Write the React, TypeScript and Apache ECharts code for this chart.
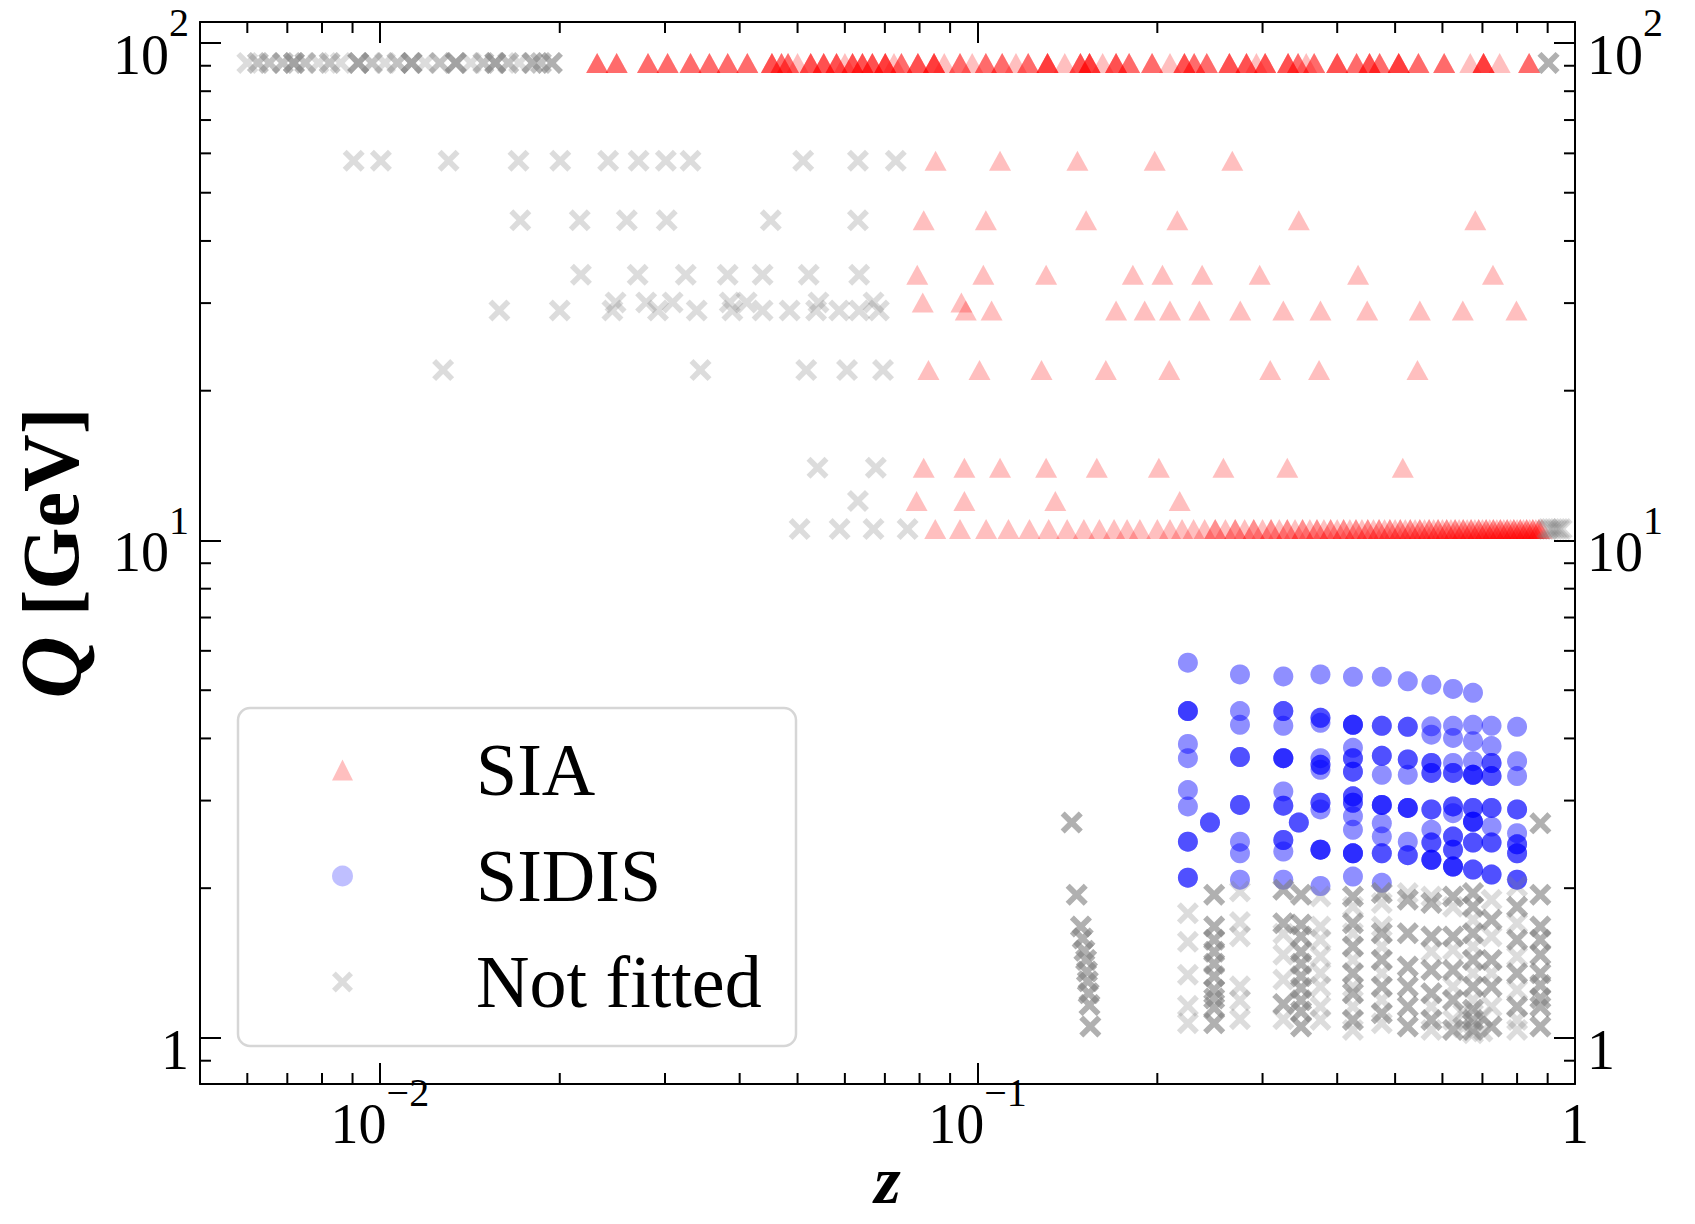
import React, { useEffect, useRef } from 'react';
import * as echarts from 'echarts';

const FONT = '"Liberation Serif", "DejaVu Serif", serif';

// ---------- axis settings ----------
const Z_MIN = 0.005;
const Z_MAX = 1;
const Q_MIN = 0.808;
const Q_MAX = 110.2;
const zMinorTicks = [0.006, 0.007, 0.008, 0.009, 0.02, 0.03, 0.04, 0.05, 0.06, 0.07, 0.08, 0.09, 0.2, 0.3, 0.4, 0.5, 0.6, 0.7, 0.8, 0.9];
const qMinorTicks = [0.9, 2, 3, 4, 5, 6, 7, 8, 9, 20, 30, 40, 50, 60, 70, 80, 90];

// ---------- SIA (e+e- annihilation) ----------
const Q_MZ = 91.2;
// [z, number of overlapping measurements]
const siaZpole: [number, number][] = [
  [0.0231, 3], [0.0249, 3], [0.0281, 3], [0.0303, 3], [0.0331, 3], [0.0356, 3], [0.0382, 3], [0.0412, 3],
  [0.0453, 4], [0.047, 3], [0.0482, 3], [0.05, 1], [0.0526, 4], [0.0553, 4], [0.0581, 4], [0.06, 1],
  [0.0618, 4], [0.0642, 4], [0.0667, 4], [0.0701, 5], [0.0725, 1], [0.0746, 3], [0.0795, 4], [0.0846, 5],
  [0.088, 1], [0.0935, 3], [0.098, 1], [0.1033, 3], [0.11, 3], [0.116, 1], [0.1216, 3], [0.131, 5],
  [0.14, 1], [0.1487, 4], [0.154, 5], [0.162, 1], [0.1706, 4], [0.1794, 3], [0.196, 3], [0.21, 1],
  [0.222, 4], [0.2305, 3], [0.242, 3], [0.264, 4], [0.282, 4], [0.293, 1], [0.303, 4], [0.331, 4],
  [0.344, 3], [0.355, 1], [0.366, 3], [0.4, 4], [0.431, 3], [0.453, 4], [0.471, 3], [0.507, 5],
  [0.547, 3], [0.604, 3], [0.668, 1], [0.703, 5], [0.748, 1], [0.838, 3],
];
const siaQ58 = [0.0851, 0.1091, 0.147, 0.198, 0.267];
const siaQ44 = [0.0813, 0.1033, 0.152, 0.216, 0.345, 0.681];
const siaQ34 = [0.0793, 0.1023, 0.1303, 0.182, 0.204, 0.2377, 0.2967, 0.4335, 0.729];
const siaQ30 = [0.081, 0.094];
const siaQ29 = [0.0956, 0.1056, 0.1706, 0.1905, 0.21, 0.2352, 0.2753, 0.325, 0.375, 0.449, 0.55, 0.649, 0.798];
const siaQ22 = [0.0828, 0.1008, 0.128, 0.164, 0.2094, 0.309, 0.373, 0.545];
const siaQ14 = [0.0813, 0.0951, 0.1091, 0.1303, 0.1584, 0.2012, 0.258, 0.33, 0.515];
const siaQ12 = [0.0791, 0.0951, 0.135, 0.218];
const siaQ105 = [
  0.085, 0.0935, 0.1034, 0.1127, 0.1222, 0.1316, 0.1413, 0.1507, 0.16, 0.1693, 0.178, 0.187,
  0.2, 0.21, 0.22, 0.23, 0.24, 0.25, 0.26, 0.27, 0.28, 0.29, 0.3, 0.31, 0.32, 0.33, 0.34, 0.35, 0.36, 0.37, 0.38, 0.39,
  0.4, 0.41, 0.42, 0.43, 0.44, 0.45, 0.46, 0.47, 0.48, 0.49, 0.5, 0.51, 0.52, 0.53, 0.54, 0.55, 0.56, 0.57, 0.58, 0.59,
  0.6, 0.61, 0.62, 0.63, 0.64, 0.65, 0.66, 0.67, 0.68, 0.69, 0.7, 0.71, 0.72, 0.73, 0.74, 0.75, 0.76, 0.77, 0.78, 0.79,
  0.8, 0.81, 0.82, 0.83, 0.84, 0.85, 0.86, 0.87, 0.88,
];
const siaQ105b = [
  0.25, 0.27, 0.29, 0.31, 0.33, 0.35, 0.37, 0.39, 0.41, 0.43, 0.45, 0.47, 0.49, 0.51, 0.53, 0.55,
  0.57, 0.59, 0.61, 0.63, 0.65, 0.67, 0.69, 0.71, 0.73, 0.75, 0.77, 0.79, 0.81, 0.83, 0.85, 0.87,
];

// ---------- SIDIS: [z, Q, overlap] ----------
const sidisPoints: [number, number, number][] = [
  [0.225, 5.68, 2], [0.225, 4.54, 5], [0.225, 3.9, 2], [0.225, 3.65, 2], [0.225, 3.15, 2], [0.225, 2.92, 2], [0.225, 2.48, 4], [0.225, 2.1, 4],
  [0.245, 2.71, 4],
  [0.275, 5.38, 2], [0.275, 4.54, 2], [0.275, 4.26, 2], [0.275, 3.67, 4], [0.275, 2.94, 4], [0.275, 2.48, 2], [0.275, 2.35, 2], [0.275, 2.08, 2],
  [0.325, 5.33, 2], [0.325, 4.54, 4], [0.325, 4.24, 2], [0.325, 3.65, 6], [0.325, 3.13, 2], [0.325, 2.93, 4], [0.325, 2.5, 4], [0.325, 2.37, 2], [0.325, 2.08, 2],
  [0.345, 2.71, 4],
  [0.375, 5.38, 2], [0.375, 4.4, 4], [0.375, 4.3, 2], [0.375, 3.65, 2], [0.375, 3.54, 4], [0.375, 3.46, 2], [0.375, 2.97, 4], [0.375, 2.88, 2], [0.375, 2.39, 6], [0.375, 2.02, 2],
  [0.425, 5.32, 2], [0.425, 4.26, 6], [0.425, 3.83, 2], [0.425, 3.65, 4], [0.425, 3.43, 4], [0.425, 3.06, 4], [0.425, 2.97, 4], [0.425, 2.79, 2], [0.425, 2.62, 2], [0.425, 2.35, 6], [0.425, 2.11, 2],
  [0.475, 5.32, 2], [0.475, 4.24, 4], [0.475, 3.69, 4], [0.475, 3.38, 2], [0.475, 2.94, 6], [0.475, 2.7, 2], [0.475, 2.54, 2], [0.475, 2.35, 4], [0.475, 2.05, 2],
  [0.525, 5.21, 2], [0.525, 4.22, 4], [0.525, 3.63, 4], [0.525, 3.38, 2], [0.525, 2.9, 6], [0.525, 2.48, 2], [0.525, 2.33, 4],
  [0.575, 5.13, 2], [0.575, 4.23, 2], [0.575, 4.07, 2], [0.575, 3.57, 4], [0.575, 3.41, 4], [0.575, 2.88, 4], [0.575, 2.62, 2], [0.575, 2.47, 4], [0.575, 2.28, 6],
  [0.625, 5.03, 2], [0.625, 4.24, 2], [0.625, 4.01, 2], [0.625, 3.57, 2], [0.625, 3.41, 4], [0.625, 2.92, 4], [0.625, 2.83, 2], [0.625, 2.54, 4], [0.625, 2.39, 4], [0.625, 2.21, 6],
  [0.675, 4.94, 2], [0.675, 4.26, 2], [0.675, 3.95, 2], [0.675, 3.6, 2], [0.675, 3.38, 6], [0.675, 2.9, 4], [0.675, 2.72, 6], [0.675, 2.47, 4], [0.675, 2.18, 4],
  [0.725, 4.24, 2], [0.725, 3.86, 2], [0.725, 3.57, 4], [0.725, 3.36, 4], [0.725, 2.9, 4], [0.725, 2.66, 2], [0.725, 2.47, 4], [0.725, 2.13, 4],
  [0.8, 4.22, 2], [0.8, 3.6, 2], [0.8, 3.36, 2], [0.8, 2.88, 4], [0.8, 2.58, 2], [0.8, 2.45, 4], [0.8, 2.35, 4], [0.8, 2.08, 4],
];

// ---------- Not fitted ----------
const nfZpole: [number, number][] = [
  [0.006, 1], [0.00625, 2], [0.00653, 2], [0.00688, 2], [0.00718, 4], [0.0075, 2], [0.00789, 1], [0.00824, 2],
  [0.0086, 1], [0.0092, 4], [0.0097, 2], [0.0102, 1], [0.0107, 2], [0.0113, 4], [0.0119, 1], [0.0126, 2],
  [0.0134, 4], [0.0142, 1], [0.0149, 2], [0.0156, 4], [0.0164, 2], [0.0171, 1], [0.018, 3], [0.0186, 2],
  [0.0194, 3], [0.903, 3],
];
const nfQ58 = [0.00904, 0.01004, 0.01303, 0.01706, 0.02004, 0.0241, 0.0271, 0.0301, 0.0331, 0.0511, 0.0631, 0.073];
const nfQ44 = [0.01718, 0.0216, 0.0259, 0.0302, 0.0451, 0.0631];
const nfQ34 = [0.0217, 0.027, 0.0325, 0.0382, 0.0437, 0.0522, 0.0634];
const nfQ30 = [0.0248, 0.0279, 0.0309, 0.0385, 0.0411, 0.0542, 0.067];
const nfQ29 = [0.01585, 0.02, 0.0245, 0.0292, 0.0339, 0.0389, 0.0437, 0.0485, 0.0537, 0.0587, 0.0634, 0.0684];
const nfQ22 = [0.01276, 0.0344, 0.0517, 0.0605, 0.0695];
const nfQ14 = [0.054, 0.0676];
const nfQ12 = [0.0631];
const nfQ105 = [0.0504, 0.0588, 0.067, 0.0764, 0.9, 0.91, 0.92, 0.93, 0.94, 0.95];
const nfLowQ: [number, number, number][] = [
  [0.1438, 2.71, 3], [0.1466, 1.94, 3], [0.149, 1.675, 3], [0.15, 1.585, 3], [0.151, 1.497, 3], [0.152, 1.435, 3],
  [0.1525, 1.36, 3], [0.153, 1.3, 3], [0.1535, 1.23, 3], [0.154, 1.165, 3], [0.1545, 1.054, 3],
  [0.225, 1.78, 1], [0.225, 1.56, 1], [0.225, 1.34, 1], [0.225, 1.16, 1], [0.225, 1.07, 1],
  [0.249, 1.94, 3], [0.249, 1.675, 3], [0.249, 1.575, 3], [0.249, 1.49, 3], [0.249, 1.41, 3], [0.249, 1.33, 3], [0.249, 1.25, 3], [0.249, 1.2, 3], [0.249, 1.15, 3], [0.249, 1.07, 3],
  [0.275, 1.97, 1], [0.275, 1.71, 1], [0.275, 1.6, 1], [0.275, 1.27, 1], [0.275, 1.19, 1], [0.275, 1.09, 1],
  [0.325, 1.985, 3], [0.325, 1.7, 3], [0.325, 1.62, 1], [0.325, 1.47, 1], [0.325, 1.31, 1], [0.325, 1.17, 3], [0.325, 1.09, 1],
  [0.348, 1.94, 3], [0.348, 1.69, 3], [0.348, 1.6, 3], [0.348, 1.49, 3], [0.348, 1.41, 3], [0.348, 1.33, 3], [0.348, 1.26, 3], [0.348, 1.19, 3], [0.348, 1.13, 3], [0.348, 1.054, 3],
  [0.375, 1.925, 1], [0.375, 1.675, 1], [0.375, 1.575, 1], [0.375, 1.458, 1], [0.375, 1.349, 1], [0.375, 1.268, 1], [0.375, 1.156, 1], [0.375, 1.087, 1],
  [0.425, 1.925, 3], [0.425, 1.836, 1], [0.425, 1.701, 3], [0.425, 1.624, 1], [0.425, 1.527, 3], [0.425, 1.435, 1], [0.425, 1.349, 3], [0.425, 1.268, 1], [0.425, 1.23, 3], [0.425, 1.156, 1], [0.425, 1.087, 3], [0.425, 1.038, 1],
  [0.475, 1.955, 3], [0.475, 1.867, 1], [0.475, 1.675, 1], [0.475, 1.624, 3], [0.475, 1.527, 1], [0.475, 1.435, 3], [0.475, 1.349, 1], [0.475, 1.268, 3], [0.475, 1.192, 1], [0.475, 1.121, 3], [0.475, 1.07, 1],
  [0.525, 1.955, 1], [0.525, 1.896, 3], [0.525, 1.624, 3], [0.525, 1.392, 3], [0.525, 1.268, 3], [0.525, 1.156, 3], [0.525, 1.054, 3],
  [0.575, 1.925, 1], [0.575, 1.867, 3], [0.575, 1.599, 3], [0.575, 1.491, 1], [0.575, 1.37, 3], [0.575, 1.23, 3], [0.575, 1.156, 1], [0.575, 1.087, 3], [0.575, 1.038, 1],
  [0.625, 1.925, 3], [0.625, 1.836, 1], [0.625, 1.599, 3], [0.625, 1.503, 1], [0.625, 1.37, 3], [0.625, 1.268, 1], [0.625, 1.192, 3], [0.625, 1.087, 1], [0.625, 1.038, 3],
  [0.65, 1.05, 1], [0.65, 1.12, 1], [0.7, 1.03, 1], [0.7, 1.1, 1],
  [0.675, 1.955, 3], [0.675, 1.836, 3], [0.675, 1.728, 1], [0.675, 1.624, 3], [0.675, 1.527, 1], [0.675, 1.435, 3], [0.675, 1.349, 1], [0.675, 1.268, 3], [0.675, 1.192, 1], [0.675, 1.139, 3], [0.675, 1.087, 3], [0.675, 1.038, 3], [0.675, 1.022, 1],
  [0.725, 1.896, 1], [0.725, 1.728, 3], [0.725, 1.599, 1], [0.725, 1.435, 3], [0.725, 1.349, 1], [0.725, 1.268, 3], [0.725, 1.156, 1], [0.725, 1.054, 3],
  [0.8, 2.015, 1], [0.8, 1.836, 3], [0.8, 1.701, 1], [0.8, 1.575, 3], [0.8, 1.458, 1], [0.8, 1.349, 3], [0.8, 1.249, 1], [0.8, 1.156, 3], [0.8, 1.087, 1], [0.8, 1.038, 1],
  [0.875, 2.7, 3], [0.875, 1.94, 3], [0.875, 1.675, 3], [0.875, 1.575, 3], [0.875, 1.469, 3], [0.875, 1.349, 3], [0.875, 1.278, 3], [0.875, 1.202, 3], [0.875, 1.156, 3], [0.875, 1.054, 3],
];

const X_SYMBOL = 'path://M0,1.8L1.8,0L5,3.2L8.2,0L10,1.8L6.8,5L10,8.2L8.2,10L5,6.8L1.8,10L0,8.2L3.2,5Z';

function repeatPts(pts: [number, number, number][]): number[][] {
  const out: number[][] = [];
  pts.forEach(([z, q, n]) => {
    for (let i = 0; i < n; i++) out.push([z, q]);
  });
  return out;
}
function row(q: number, zs: number[]): number[][] {
  return zs.map((z) => [z, q]);
}

const siaData = [
  ...repeatPts(siaZpole.map(([z, n]) => [z, Q_MZ, n] as [number, number, number])),
  ...row(58, siaQ58), ...row(44, siaQ44), ...row(34.2, siaQ34), ...row(30.1, siaQ30), ...row(29, siaQ29),
  ...row(22, siaQ22), ...row(14, siaQ14), ...row(12, siaQ12), ...row(10.54, siaQ105), ...row(10.54, siaQ105b),
];
const sidisData = repeatPts(sidisPoints);
const nfData = [
  ...repeatPts(nfZpole.map(([z, n]) => [z, Q_MZ, n] as [number, number, number])),
  ...row(58, nfQ58), ...row(44, nfQ44), ...row(34.2, nfQ34), ...row(30.1, nfQ30), ...row(29, nfQ29),
  ...row(22, nfQ22), ...row(14, nfQ14), ...row(12, nfQ12), ...row(10.54, nfQ105),
  ...repeatPts(nfLowQ),
];

function powLabel(v: number): string {
  const e = Math.round(Math.log10(v));
  if (e === 0) return '{b|1}';
  return `{b|10}{s|${e < 0 ? '\u2212' + -e : e}}`;
}
const labelRich = {
  b: { fontFamily: FONT, fontSize: 56, lineHeight: 80, verticalAlign: 'bottom', color: '#000' },
  s: { fontFamily: FONT, fontSize: 40, lineHeight: 40, verticalAlign: 'top', color: '#000' },
};

export default function App() {
  const ref = useRef<HTMLDivElement>(null);
  useEffect(() => {
    if (!ref.current) return;
    const chart = echarts.init(ref.current, undefined, { renderer: 'svg' });
    const axisLine = { show: true, onZero: false, lineStyle: { color: '#000', width: 2 } };
    const axisTick = { show: true, inside: true, length: 21, lineStyle: { color: '#000', width: 2 } };
    const tickLine = (x1: number, y1: number, x2: number, y2: number) => ({
      type: 'line', shape: { x1, y1, x2, y2 }, style: { stroke: '#000', lineWidth: 2 },
    });
    const option: any = {
      animation: false,
      textStyle: { fontFamily: FONT },
      grid: { left: 200, right: 120, top: 22, bottom: 140, containLabel: false, outerBoundsMode: 'none' },
      legend: {
        data: ['SIA', 'SIDIS', 'Not fitted'],
        orient: 'vertical',
        left: 332,
        top: 730,
        padding: 0,
        itemWidth: 21,
        itemHeight: 21,
        itemGap: 26,
        selectedMode: false,
        textStyle: { fontFamily: FONT, fontSize: 74, color: '#000', lineHeight: 80, padding: [0, 0, 0, 118] },
      },
      graphic: [
        {
          type: 'rect', z: 3, shape: { x: 238, y: 708, width: 558, height: 338, r: 12 },
          style: { fill: 'rgba(255,255,255,0.8)', stroke: '#d6d6d6', lineWidth: 2.5 },
        },
      ],
      xAxis: [
        {
          type: 'log', logBase: 10, min: Z_MIN, max: Z_MAX, position: 'bottom',
          axisLine, axisTick, splitLine: { show: false },
          axisLabel: { formatter: powLabel, rich: labelRich, margin: -12, showMinLabel: false, showMaxLabel: true },
          name: 'z', nameLocation: 'middle', nameGap: 66, nameMoveOverlap: false,
          nameTextStyle: { fontFamily: FONT, fontSize: 68, lineHeight: 60, fontStyle: 'italic', fontWeight: 'bold', color: '#000' },
        },
        {
          type: 'log', logBase: 10, min: Z_MIN, max: Z_MAX, position: 'top',
          axisLine, axisTick, splitLine: { show: false }, axisLabel: { show: false },
        },
      ],
      yAxis: [
        {
          type: 'log', logBase: 10, min: Q_MIN, max: Q_MAX, position: 'left',
          axisLine, axisTick, splitLine: { show: false },
          axisLabel: { formatter: powLabel, rich: labelRich, margin: 11, showMinLabel: false, showMaxLabel: false },
          name: '{q|Q} {g|[GeV]}', nameLocation: 'middle', nameGap: 106, nameRotate: 90,
          nameTextStyle: {
            fontFamily: FONT, fontSize: 80, fontWeight: 'bold', color: '#000',
            rich: {
              q: { fontFamily: FONT, fontSize: 86, fontStyle: 'italic', fontWeight: 'bold', color: '#000' },
              g: { fontFamily: FONT, fontSize: 80, fontWeight: 'bold', color: '#000' },
            },
          },
        },
        {
          type: 'log', logBase: 10, min: Q_MIN, max: Q_MAX, position: 'right',
          axisLine, axisTick, splitLine: { show: false },
          axisLabel: { formatter: powLabel, rich: labelRich, margin: 12, showMinLabel: false, showMaxLabel: false },
        },
      ],
      series: [
        {
          name: 'SIA', type: 'scatter', xAxisIndex: 0, yAxisIndex: 0, data: siaData,
          symbol: 'triangle', symbolSize: [22, 20], itemStyle: { color: 'rgb(255,0,0)', opacity: 0.25 },
          emphasis: { disabled: true }, silent: true, z: 2,
        },
        {
          name: 'SIDIS', type: 'scatter', xAxisIndex: 0, yAxisIndex: 0, data: sidisData,
          symbol: 'circle', symbolSize: 20, itemStyle: { color: 'rgb(0,0,255)', opacity: 0.25 },
          emphasis: { disabled: true }, silent: true, z: 2,
        },
        {
          name: 'Not fitted', type: 'scatter', xAxisIndex: 0, yAxisIndex: 0, data: nfData,
          symbol: X_SYMBOL, symbolSize: 22, itemStyle: { color: 'rgb(128,128,128)', opacity: 0.28 },
          emphasis: { disabled: true }, silent: true, z: 2,
        },
        {
          type: 'custom', xAxisIndex: 0, yAxisIndex: 0, silent: true, z: 5,
          data: zMinorTicks.map((v) => [v, 1]),
          renderItem: (params: any, api: any) => {
            const p = api.coord([api.value(0), 1]);
            const cs = params.coordSys;
            return {
              type: 'group',
              children: [
                tickLine(p[0], cs.y + cs.height, p[0], cs.y + cs.height - 11),
                tickLine(p[0], cs.y, p[0], cs.y + 11),
              ],
            };
          },
        },
        {
          type: 'custom', xAxisIndex: 0, yAxisIndex: 0, silent: true, z: 5,
          data: qMinorTicks.map((v) => [0.1, v]),
          renderItem: (params: any, api: any) => {
            const p = api.coord([0.1, api.value(1)]);
            const cs = params.coordSys;
            return {
              type: 'group',
              children: [
                tickLine(cs.x, p[1], cs.x + 11, p[1]),
                tickLine(cs.x + cs.width, p[1], cs.x + cs.width - 11, p[1]),
              ],
            };
          },
        },
      ],
    };
    chart.setOption(option);
    return () => chart.dispose();
  }, []);
  return (
    <div
      ref={ref}
      style={{ position: 'absolute', left: 0, top: 0, width: 1695, height: 1224, background: '#fff' }}
    />
  );
}
